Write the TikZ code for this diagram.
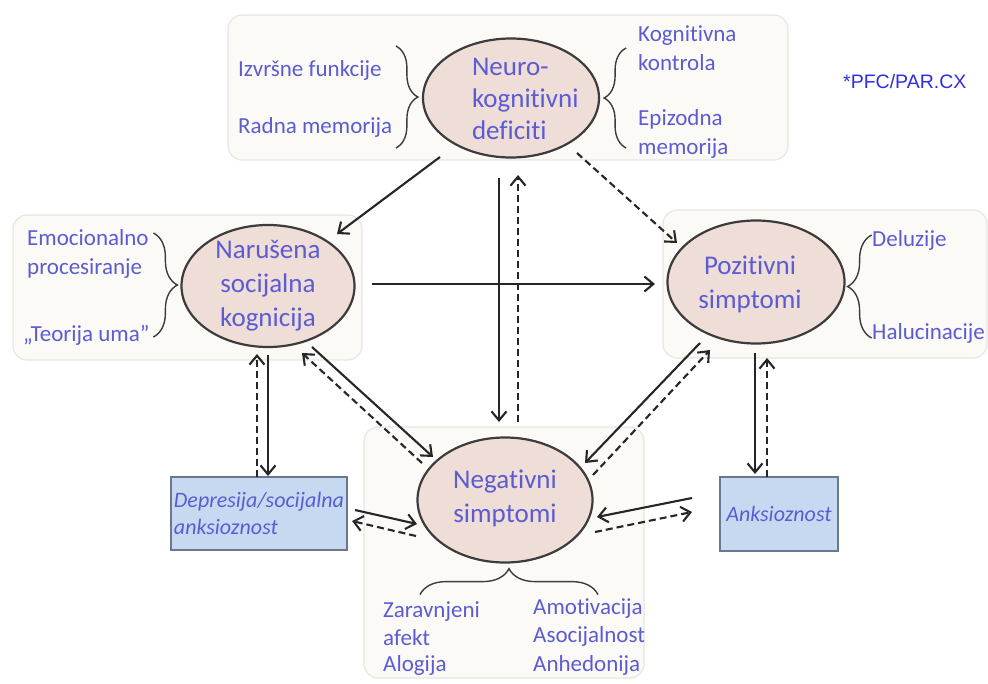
\documentclass[tikz,border=0pt]{standalone}
\usepackage{fontspec}
\setmainfont{Carlito}[Ligatures=NoCommon]
\newfontfamily\pfcfont{Liberation Sans}
\usepackage{tikz}
\usetikzlibrary{positioning, arrows.meta, shapes.geometric, decorations.pathreplacing}
\definecolor{cxpink}{RGB}{239,221,215}
\definecolor{cxline}{RGB}{60,60,60}
\definecolor{cxpanel}{RGB}{251,250,246}
\definecolor{cxpanelrim}{RGB}{232,230,225}
\definecolor{cxblue}{RGB}{198,217,241}
\definecolor{cxbluerim}{RGB}{105,120,140}
\definecolor{cxtext}{RGB}{92,92,210}
\definecolor{cxpfc}{RGB}{45,45,230}
\tikzset{
    panel/.style={rectangle, rounded corners=14pt, fill=cxpanel, draw=cxpanelrim, line width=1.2pt, inner sep=0pt},
    factor/.style={ellipse, draw=cxline, line width=2.2pt, fill=cxpink, inner sep=0pt},
    factortext/.style={text=cxtext, align=center, inner sep=0pt, font=\fontsize{27}{34}\selectfont},
    affbox/.style={rectangle, draw=cxbluerim, line width=1.5pt, fill=cxblue, text=cxtext, inner sep=0pt, align=left, font=\fontsize{22}{27}\selectfont\itshape},
    sublabel/.style={text=cxtext, inner sep=0pt, anchor=west, align=left, font=\fontsize{23}{29}\selectfont},
    pfcnote/.style={text=cxpfc, inner sep=0pt, anchor=west, font=\pfcfont\fontsize{19.5}{22}\selectfont},
    link/.style={line width=2.1pt, draw=black!85, -{Straight Barb[length=9pt,width=15pt]}},
    weaklink/.style={link, dash pattern=on 7pt off 4pt},
    grouping/.style={decorate, decoration={brace, amplitude=#1}, draw=cxline, line width=1.4pt},
    grouping/.default=22
}

\begin{document}
\begin{tikzpicture}[x=1pt, y=-1pt]
    \useasboundingbox (0,0) rectangle (988,683);
    % panels
    \node[panel, minimum width=560pt, minimum height=145pt] (neuropanel) at (508,87.5) {};
    \node[panel, minimum width=349pt, minimum height=145pt] (narpanel) at (187.5,287.5) {};
    \node[panel, minimum width=324pt, minimum height=148pt] (pozpanel) at (825,284) {};
    \node[panel, minimum width=280pt, minimum height=251pt] (negpanel) at (504,552.5) {};

    % factors
    \node[factor, minimum width=176pt, minimum height=119pt,
          label={[factortext, text width=108pt, align=left, font=\fontsize{27}{32}\selectfont, xshift=15pt, yshift=-1pt]center:{Neuro-\\kognitivni\\deficiti}}] (neuro) at (511,98) {};
    \node[factor, minimum width=173pt, minimum height=122pt,
          label={[factortext]center:{Narušena\\socijalna\\kognicija}}] (nar) at (268,286) {};
    \node[factor, minimum width=177pt, minimum height=123pt,
          label={[factortext, xshift=-6pt, yshift=-2pt]center:{Pozitivni\\simptomi}}] (poz) at (756,282) {};
    \node[factor, minimum width=175pt, minimum height=125pt,
          label={[factortext, yshift=2pt]center:{Negativni\\simptomi}}] (neg) at (505,500) {};

    \node[affbox, minimum width=176pt, minimum height=73pt] (dep) at (259,513.5) {Depresija/socijalna\\anksioznost};
    \node[affbox, minimum width=118pt, minimum height=74pt] (anks) at (779,514) {Anksioznost};

    % sub-labels
    \node[sublabel] (izv) at (238,70) {Izvršne funkcije};
    \node[sublabel] (radna) at (238,127) {Radna memorija};
    \node[sublabel] (kogn) at (638,48) {Kognitivna\\kontrola};
    \node[sublabel] (epiz) at (638,134) {Epizodna\\memorija};
    \node[sublabel] (emoc) at (27,254) {Emocionalno\\procesiranje};
    \node[sublabel] (teor) at (23,335) {„Teorija uma”};
    \node[sublabel] (del) at (872,240) {Deluzije};
    \node[sublabel] (hal) at (872,333) {Halucinacije};
    \node[sublabel, font=\fontsize{23}{28}\selectfont] (zar) at (383,624) {Zaravnjeni\\afekt};
    \node[sublabel] (alog) at (383,665) {Alogija};
    \node[sublabel, font=\fontsize{23}{28.5}\selectfont] (amot) at (533,637) {Amotivacija\\Asocijalnost\\Anhedonija};
    \node[pfcnote] (pfc) at (843,82) {*PFC/PAR.CX};

    % braces
    \draw[grouping] ([shift={(-26,-52)}]neuro.west) -- ([shift={(-26,50)}]neuro.west);
    \draw[grouping] ([shift={(26,50)}]neuro.east) -- ([shift={(26,-50)}]neuro.east);
    \draw[grouping=24] ([shift={(-27,-53)}]nar.west) -- ([shift={(-27,51)}]nar.west);
    \draw[grouping=24] ([shift={(26,56)}]poz.east) -- ([shift={(26,-47)}]poz.east);
    \draw[grouping=26] ([shift={(-85,31)}]neg.south) -- ([shift={(93,31)}]neg.south);

    % links
    \draw[link] ([shift={(-71,59)}]neuro.center) -- ([shift={(69,-52)}]nar.center);
    \draw[weaklink] ([shift={(66,55)}]neuro.center) -- ([shift={(-79,-39)}]poz.center);
    \draw[link] ([shift={(-12,80)}]neuro.center) -- ([shift={(-6,-78)}]neg.center);
    \draw[weaklink] ([shift={(13,-78)}]neg.center) -- ([shift={(7,77)}]neuro.center);
    \draw[link] ([shift={(104,-2)}]nar.center) -- ([shift={(-101,2)}]poz.center);
    \draw[link] ([shift={(44,61)}]nar.center) -- ([shift={(-72,-43)}]neg.center);
    \draw[weaklink] ([shift={(-83,-37)}]neg.center) -- ([shift={(34,67)}]nar.center);
    \draw[link] ([shift={(-56,61)}]poz.center) -- ([shift={(80,-37)}]neg.center);
    \draw[weaklink] ([shift={(88,-25)}]neg.center) -- ([shift={(-46,68)}]poz.center);
    \draw[link] ([shift={(0,69)}]nar.center) -- ([shift={(9,-37.5)}]dep.center);
    \draw[weaklink] ([shift={(-2,-36.5)}]dep.center) -- ([shift={(-11,68)}]nar.center);
    \draw[link] ([shift={(96,-3.5)}]dep.center) -- ([shift={(-88,24)}]neg.center);
    \draw[weaklink] ([shift={(-89,36)}]neg.center) -- ([shift={(93,7.5)}]dep.center);
    \draw[link] ([shift={(-1,71)}]poz.center) -- ([shift={(-24,-40)}]anks.center);
    \draw[weaklink] ([shift={(-12,-37)}]anks.center) -- ([shift={(11,76)}]poz.center);
    \draw[link] ([shift={(-87,-16)}]anks.center) -- ([shift={(92,17)}]neg.center);
    \draw[weaklink] ([shift={(90,32)}]neg.center) -- ([shift={(-87,-2)}]anks.center);
\end{tikzpicture}
\end{document}
